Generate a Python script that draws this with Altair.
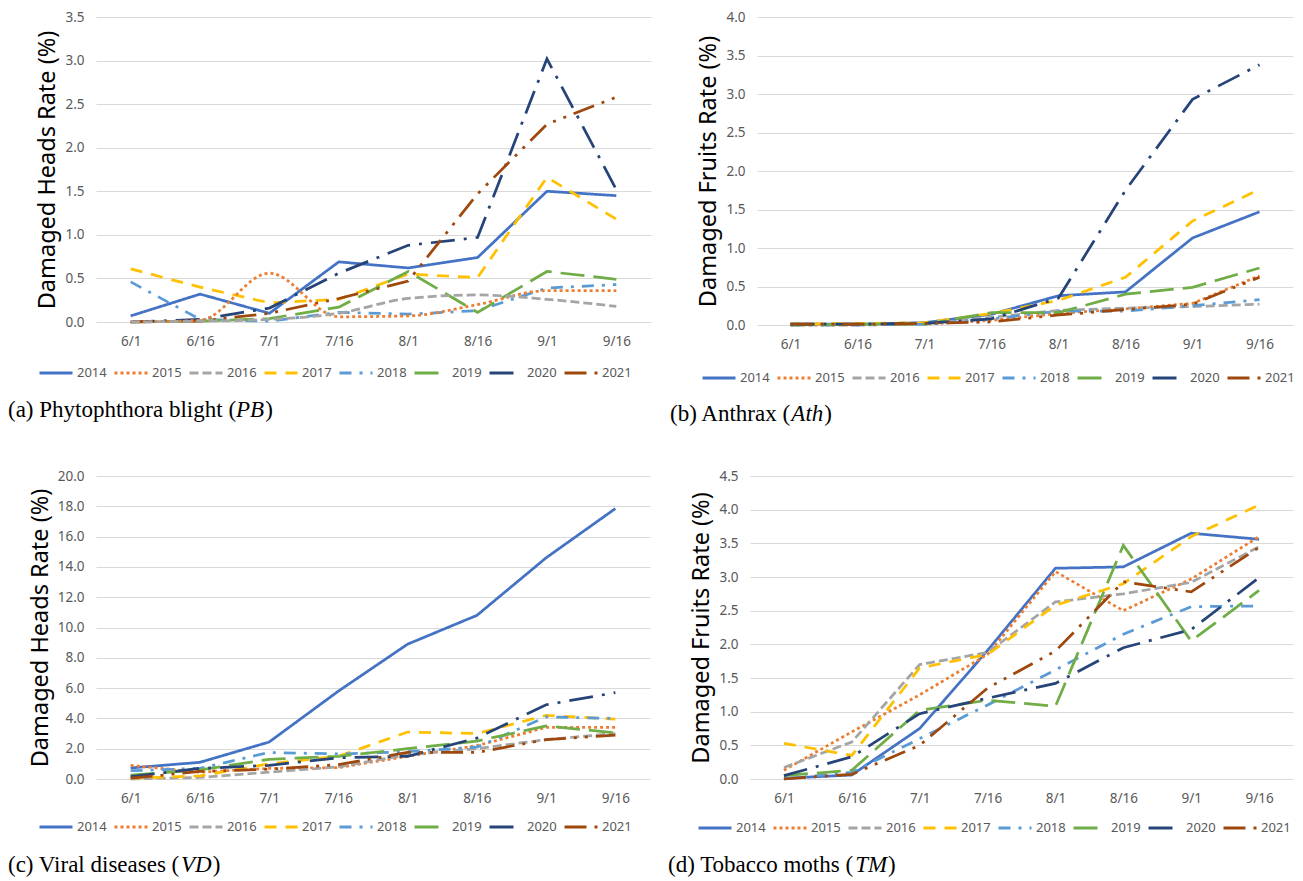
import altair as alt
import pandas as pd

DATES = ["6/1", "6/16", "7/1", "7/16", "8/1", "8/16", "9/1", "9/16"]
YEARS = ["2014", "2015", "2016", "2017", "2018", "2019", "2020", "2021"]
COLORS = ["#4472C4", "#ED7D31", "#A5A5A5", "#FFC000", "#5B9BD5", "#70AD47", "#264478", "#9E480E"]
DASHES = [[1, 0], [3, 3], [9, 4], [12, 9], [12, 8, 3, 8], [24, 9], [24, 9, 3, 9], [22, 8, 3, 8, 3, 8]]

# (a) Phytophthora blight
PB = {
    "2014": [0.07, 0.32, 0.10, 0.69, 0.62, 0.74, 1.50, 1.45],
    "2015": [0.00, 0.02, 0.56, 0.06, 0.07, 0.20, 0.36, 0.36],
    "2016": [0.00, 0.01, 0.03, 0.10, 0.27, 0.31, 0.26, 0.18],
    "2017": [0.61, 0.40, 0.22, 0.26, 0.55, 0.51, 1.66, 1.18],
    "2018": [0.46, 0.03, 0.01, 0.11, 0.09, 0.13, 0.39, 0.43],
    "2019": [0.00, 0.01, 0.04, 0.17, 0.58, 0.11, 0.58, 0.49],
    "2020": [0.00, 0.03, 0.16, 0.56, 0.88, 0.97, 3.02, 1.52],
    "2021": [0.00, 0.01, 0.10, 0.27, 0.47, 1.47, 2.27, 2.58],
}
# (b) Anthrax
ATH = {
    "2014": [0.01, 0.01, 0.03, 0.14, 0.38, 0.43, 1.13, 1.47],
    "2015": [0.00, 0.00, 0.01, 0.06, 0.15, 0.21, 0.28, 0.64],
    "2016": [0.01, 0.01, 0.01, 0.10, 0.19, 0.22, 0.24, 0.27],
    "2017": [0.01, 0.02, 0.03, 0.15, 0.32, 0.62, 1.35, 1.76],
    "2018": [0.00, 0.00, 0.01, 0.08, 0.18, 0.18, 0.25, 0.33],
    "2019": [0.00, 0.01, 0.01, 0.16, 0.16, 0.40, 0.49, 0.74],
    "2020": [0.01, 0.01, 0.02, 0.08, 0.35, 1.75, 2.93, 3.38],
    "2021": [0.01, 0.01, 0.02, 0.04, 0.13, 0.20, 0.27, 0.62],
}
# (c) Viral diseases
VD = {
    "2014": [0.73, 1.10, 2.44, 5.80, 8.90, 10.80, 14.60, 17.85],
    "2015": [0.90, 0.45, 0.70, 0.75, 1.50, 2.20, 3.40, 3.40],
    "2016": [0.00, 0.10, 0.45, 0.80, 1.60, 2.00, 2.60, 3.00],
    "2017": [0.05, 0.20, 1.00, 1.50, 3.10, 3.00, 4.20, 3.95],
    "2018": [0.55, 0.70, 1.75, 1.65, 1.80, 2.10, 4.10, 4.00],
    "2019": [0.25, 0.60, 1.30, 1.50, 2.00, 2.50, 3.50, 3.05],
    "2020": [0.15, 0.70, 0.90, 1.40, 1.50, 2.70, 4.90, 5.70],
    "2021": [0.05, 0.50, 0.65, 0.95, 1.75, 1.75, 2.60, 2.90],
}
# (d) Tobacco moths
TM = {
    "2014": [0.01, 0.06, 0.75, 1.91, 3.13, 3.15, 3.65, 3.56],
    "2015": [0.13, 0.70, 1.25, 1.85, 3.08, 2.50, 2.97, 3.60],
    "2016": [0.17, 0.55, 1.70, 1.88, 2.63, 2.75, 2.92, 3.45],
    "2017": [0.53, 0.35, 1.65, 1.85, 2.58, 2.90, 3.60, 4.07],
    "2018": [0.00, 0.10, 0.60, 1.10, 1.62, 2.15, 2.56, 2.57],
    "2019": [0.05, 0.13, 1.02, 1.17, 1.08, 3.47, 2.05, 2.80],
    "2020": [0.05, 0.33, 0.97, 1.20, 1.42, 1.95, 2.22, 2.99],
    "2021": [0.00, 0.07, 0.50, 1.35, 1.90, 2.93, 2.78, 3.44],
}

TICKS_A = [0.0, 0.5, 1.0, 1.5, 2.0, 2.5, 3.0, 3.5]
TICKS_B = [0.0, 0.5, 1.0, 1.5, 2.0, 2.5, 3.0, 3.5, 4.0]
TICKS_C = [0.0, 2.0, 4.0, 6.0, 8.0, 10.0, 12.0, 14.0, 16.0, 18.0, 20.0]
TICKS_D = [0.0, 0.5, 1.0, 1.5, 2.0, 2.5, 3.0, 3.5, 4.0, 4.5]

SANS = "Noto Sans"
SERIF = "Liberation Serif"
CAP_SIZE = 23

# Times New Roman advance widths (per 1000 em) for caption layout
TNR = {"(": 333, ")": 333, " ": 250, "a": 444, "b": 500, "c": 444, "d": 500, "e": 444,
       "g": 500, "h": 500, "i": 278, "l": 278, "m": 778, "n": 500, "o": 500, "p": 500,
       "r": 333, "s": 389, "t": 278, "x": 500, "y": 500, "A": 722, "P": 556, "T": 611,
       "V": 722, "v": 500}
TNR_I = {"P": 611, "B": 611, "A": 611, "t": 278, "h": 500, "V": 611, "D": 722, "T": 556, "M": 833}


def tw(s, table):
    return sum(table.get(ch, 500) for ch in s) * CAP_SIZE / 1000.0


def panel(data, ytitle, ymax, ticks, fmt, cap, cap_it, W, H, capx, capy, legx, legy, smooth=()):
    rows = []
    for yr in YEARS:
        for d, v in zip(DATES, data[yr]):
            rows.append({"date": d, "year": yr, "v": v})
    df = pd.DataFrame(rows)
    leg = alt.Legend(title=None, orient="none", legendX=legx, legendY=legy, direction="horizontal",
                     columns=8, symbolType="stroke", symbolSize=1089, symbolStrokeWidth=3,
                     labelFontSize=13, labelColor="#595959", labelFont=SANS,
                     columnPadding=1, labelOffset=3)
    enc = dict(
        x=alt.X("date:N", sort=DATES, scale=alt.Scale(type="point", padding=0.5),
                axis=alt.Axis(title=None, labelAngle=0, grid=False, domain=False, ticks=False,
                              labelPadding=12, labelFontSize=13.5, labelColor="#595959", labelFont=SANS)),
        y=alt.Y("v:Q", scale=alt.Scale(domain=[0, ymax], nice=False),
                axis=alt.Axis(title=ytitle, values=ticks, format=fmt, grid=True, gridColor="#D9D9D9",
                              domain=False, ticks=False, labelPadding=12, labelFontSize=13.5,
                              labelColor="#595959", labelFont=SANS, titleFont=SANS, titleFontSize=23.5,
                              titleFontWeight="normal", titleColor="#000000", titlePadding=5)),
        color=alt.Color("year:N", scale=alt.Scale(domain=YEARS, range=COLORS), legend=leg),
        strokeDash=alt.StrokeDash("year:N", scale=alt.Scale(domain=YEARS, range=DASHES), legend=leg),
    )
    base = alt.Chart(df)
    layers = []
    if smooth:
        layers.append(base.transform_filter(alt.FieldOneOfPredicate(field="year", oneOf=[y for y in YEARS if y not in smooth]))
                      .mark_line(strokeWidth=2.75).encode(**enc))
        layers.append(base.transform_filter(alt.FieldOneOfPredicate(field="year", oneOf=list(smooth)))
                      .mark_line(strokeWidth=2.75, interpolate="monotone").encode(**enc))
    else:
        layers.append(base.mark_line(strokeWidth=2.75).encode(**enc))
    w1 = tw(cap, TNR)
    w2 = tw(cap_it, TNR_I)
    pieces = [(cap, capx, "normal"), (cap_it, capx + w1, "italic"), (")", capx + w1 + w2 + 1, "normal")]
    for txt, px, style in pieces:
        layers.append(
            alt.Chart(pd.DataFrame({"t": [txt]})).mark_text(
                align="left", baseline="middle", font=SERIF, fontSize=CAP_SIZE,
                fontStyle=style, color="#000000"
            ).encode(x=alt.value(px), y=alt.value(capy), text="t:N")
        )
    return alt.layer(*layers).properties(width=W, height=H)


a = panel(PB, "Damaged Heads Rate (%)", 3.5, TICKS_A, ".1f", "(a) Phytophthora blight (", "PB",
          555, 305, -88, 393, -58, 338, smooth=("2015", "2016"))
b = panel(ATH, "Damaged Fruits Rate (%)", 4.0, TICKS_B, ".1f", "(b) Anthrax (", "Ath",
          536, 308, -87, 397, -56, 343)
c = panel(VD, "Damaged Heads Rate (%)", 20.0, TICKS_C, ".1f", "(c) Viral diseases (", "VD",
          554, 303, -88, 389, -58, 333)
d = panel(TM, "Damaged Fruits Rate (%)", 4.5, TICKS_D, ".1f", "(d) Tobacco moths (", "TM",
          543, 303, -82, 389, -53, 334)

row1 = alt.hconcat(a, b, spacing=19).resolve_scale(color="independent", strokeDash="independent").resolve_legend(color="independent", strokeDash="independent")
row2 = alt.hconcat(c, d, spacing=18).resolve_scale(color="independent", strokeDash="independent").resolve_legend(color="independent", strokeDash="independent")

chart = (
    alt.vconcat(row1, row2, spacing=43)
    .resolve_scale(color="independent", strokeDash="independent")
    .resolve_legend(color="independent", strokeDash="independent")
    .properties(padding={"left": 0, "top": 2, "right": 0, "bottom": 0}, background="white")
    .configure_view(stroke=None)
)

chart.save("out.html", embed_options={"renderer": "svg", "actions": False})
